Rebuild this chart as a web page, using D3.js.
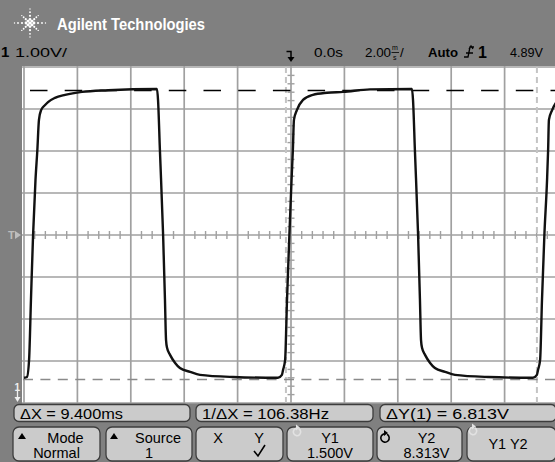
<!DOCTYPE html>
<html><head><meta charset="utf-8">
<script src="https://cdn.jsdelivr.net/npm/d3@7"></script>
<style>
html,body{margin:0;padding:0;background:#808080;}
svg{display:block;font-family:"Liberation Sans",Arial,sans-serif;}
</style></head>
<body>
<svg id="c" width="555" height="462"></svg>
<script>
// ---- data (time in ms, voltage in V) ----
const traceT = [-10.0,-9.89,-9.81,-9.74,-9.66,-9.57,-9.50,-9.44,-9.36,-9.21,-9.10,-8.84,-8.46,-7.83,-6.85,-5.02,
  -4.98,-4.91,-4.79,-4.72,-4.68,-4.64,-4.53,-4.34,-4.16,-3.78,-3.41,-2.17,-0.49,
  -0.34,-0.30,-0.22,-0.15,-0.06,0.02,0.07,0.11,0.22,0.45,0.82,1.35,1.95,2.96,4.53,
  4.57,4.64,4.76,4.83,4.87,4.91,5.02,5.21,5.39,5.77,6.14,7.38,9.06,
  9.21,9.25,9.33,9.40,9.49,9.59,9.63,9.66,9.78,10.0];
const traceV = [1.54,1.56,1.96,3.37,4.91,6.20,6.91,7.62,7.85,7.97,8.04,8.14,8.21,8.28,8.32,8.35,
  8.09,6.91,4.91,3.37,2.43,2.24,2.08,1.89,1.77,1.68,1.61,1.56,1.54,
  1.61,1.72,1.96,3.37,4.91,6.20,6.91,7.62,7.85,8.09,8.21,8.26,8.28,8.34,8.35,
  8.09,6.91,4.91,3.37,2.43,2.24,2.08,1.89,1.77,1.68,1.61,1.56,1.54,
  1.61,1.72,1.96,3.37,4.91,6.20,6.91,7.62,7.85,8.09];
const yCursors = [1.500, 8.313];
const xCursors = [-0.19, 9.21];
const gridXDivs = [-5,-4,-3,-2,-1,0,1,2,3,4,5];
const gridYDivs = [-4,-3,-2,-1,0,1,2,3,4];
const statusLabels = ["ΔX = 9.400ms", "1/ΔX = 106.38Hz", "ΔY(1) = 6.813V"];
const softTop = ["Mode", "Source", "", "Y1", "Y2", ""];
const softBottom = ["Normal", "1", "", "1.500V", "8.313V", ""];

const svg = d3.select("#c");
const W = 555, H = 462;
const x = d3.scaleLinear().domain([-10, 10]).range([24, 558]);
const gx = d3.scaleLinear().domain([-5, 5]).range([24, 558]);
const gy = d3.scaleLinear().domain([-4, 4]).range([403, 67]);
const y = d3.scaleLinear().domain([1.5, 8.313]).range([379.5, 90.5]);

svg.append("rect").attr("width", W).attr("height", H).attr("fill", "#808080");

// Header logo (starburst)
const logo = svg.append("g").attr("transform", "translate(30,23)").attr("fill", "#fff");
d3.range(8).forEach(k => {
  const a = k * Math.PI / 4;
  [4, 8, 12, 15.5].forEach((r, j) => {
    const rr = (k % 2 === 0) ? r : r * 0.75;
    logo.append("circle").attr("cx", rr * Math.cos(a)).attr("cy", rr * Math.sin(a) * 0.9)
      .attr("r", [1.4, 1.1, 0.9, 0.7][j]);
  });
});
logo.append("circle").attr("r", 1.8);
svg.append("text").attr("x", 57).attr("y", 30).attr("fill", "#fff").attr("font-weight", "bold")
  .attr("font-size", 16.5).attr("textLength", 148).attr("lengthAdjust", "spacingAndGlyphs").text("Agilent Technologies");

// Row 2 labels
function lbl(xx, yy, s, fs, tl, bold) {
  const t = svg.append("text").attr("x", xx).attr("y", yy).attr("font-size", fs).text(s);
  if (tl) t.attr("textLength", tl).attr("lengthAdjust", "spacingAndGlyphs");
  if (bold) t.attr("font-weight", "bold");
  return t;
}
lbl(1, 57, "1", 15, 0, true);
lbl(15, 57, "1.00V/", 13.5, 52);
lbl(314, 57, "0.0s", 13.5, 29);
lbl(365, 57, "2.00", 13.5, 26);
lbl(392, 49.5, "m", 7, 0);
lbl(393, 60, "s", 7, 0);
svg.append("line").attr("x1", 391.5).attr("x2", 399).attr("y1", 52.5).attr("y2", 52.5).attr("stroke", "#000").attr("stroke-width", 0.8);
lbl(400, 57, "/", 13.5, 0);
lbl(428, 57, "Auto", 13.5, 30, true);
// trigger slope symbol
svg.append("path").attr("d", "M464,57 L468,57 L470,47 L474,47 M466,53 L473,53 M469,49 l2,-3 l2,3")
  .attr("fill", "none").attr("stroke", "#000").attr("stroke-width", 1.3);
lbl(478, 58, "1", 16, 0, true);
lbl(510, 57, "4.89V", 13.5, 33);
// trigger position arrow
svg.append("path").attr("d", "M286.5,51.5 L291,51.5 L291,59").attr("fill", "none").attr("stroke", "#000").attr("stroke-width", 1.5);
svg.append("path").attr("d", "M287.5,57 L291,62 L294.5,57 Z").attr("fill", "#000");

// Plot area
svg.append("rect").attr("x", 22).attr("y", 66).attr("width", W - 22).attr("height", 403 - 66).attr("fill", "#fff");
const plot = svg.append("g");
plot.selectAll(".gvx").data(gridXDivs).join("line")
  .attr("x1", d => gx(d)).attr("x2", d => gx(d)).attr("y1", 66).attr("y2", 403)
  .attr("stroke", "#a0a0a0").attr("stroke-width", 1.7);
plot.selectAll(".gvy").data(gridYDivs).join("line")
  .attr("x1", 22).attr("x2", W).attr("y1", d => gy(d)).attr("y2", d => gy(d))
  .attr("stroke", "#a0a0a0").attr("stroke-width", 1.7);
// minor ticks on center axes
const minorX = d3.range(-25, 26).filter(i => i % 5 !== 0).map(i => i / 5);
plot.selectAll(".mtx").data(minorX).join("line")
  .attr("x1", d => gx(d)).attr("x2", d => gx(d)).attr("y1", gy(0) - 4).attr("y2", gy(0) + 4)
  .attr("stroke", "#a0a0a0").attr("stroke-width", 1.4);
const minorY = d3.range(-20, 21).filter(i => i % 5 !== 0).map(i => i / 5);
plot.selectAll(".mty").data(minorY).join("line")
  .attr("x1", gx(0) - 3.5).attr("x2", gx(0) + 3.5).attr("y1", d => gy(d)).attr("y2", d => gy(d))
  .attr("stroke", "#a0a0a0").attr("stroke-width", 1.4);

// X cursors (light dashed)
plot.selectAll(".xc").data(xCursors).join("line")
  .attr("x1", d => x(d)).attr("x2", d => x(d)).attr("y1", 67).attr("y2", 403)
  .attr("stroke", "#c4c4c4").attr("stroke-width", 2).attr("stroke-dasharray", "6,4");
// Y cursors
plot.append("line").attr("x1", 22).attr("x2", W).attr("y1", y(yCursors[0])).attr("y2", y(yCursors[0]))
  .attr("stroke", "#8a8a8a").attr("stroke-width", 1.5).attr("stroke-dasharray", "10,7.4").attr("stroke-dashoffset", -1);
plot.append("line").attr("x1", 22).attr("x2", W).attr("y1", y(yCursors[1])).attr("y2", y(yCursors[1]))
  .attr("stroke", "#000").attr("stroke-width", 1.6).attr("stroke-dasharray", "17.5,17.2").attr("stroke-dashoffset", -8);

// trace
const pts = traceT.map((t, i) => [t, traceV[i]]);
const line = d3.line().x(d => x(d[0])).y(d => y(d[1])).curve(d3.curveMonotoneX);
plot.append("path").datum(pts).attr("d", line).attr("fill", "none")
  .attr("stroke", "#111").attr("stroke-width", 2.4).attr("stroke-linejoin", "round");

// left markers: trigger level & ground
svg.append("text").attr("x", 8).attr("y", 239).attr("font-size", 11).attr("fill", "#bdbdbd").attr("font-weight", "bold").text("T");
svg.append("path").attr("d", "M15,231 L21,235 L15,239 Z").attr("fill", "#bdbdbd");
svg.append("text").attr("x", 14.5).attr("y", 391).attr("font-size", 10).attr("fill", "#f0f0f0").attr("font-weight", "bold").text("1");
svg.append("path").attr("d", "M17.5,391 L17.5,399").attr("stroke", "#f0f0f0").attr("stroke-width", 1.3);
svg.append("path").attr("d", "M14.5,397 L17.5,402 L20.5,397 Z").attr("fill", "#f0f0f0");

// status boxes
const statusX = [[14, 190], [196, 373], [380, 556]];
const statusTL = [103, 127, 123];
statusX.forEach((b, i) => {
  svg.append("rect").attr("x", b[0]).attr("y", 404.5).attr("width", b[1] - b[0]).attr("height", 17)
    .attr("rx", 5).attr("fill", "#cbcbcb").attr("stroke", "#3c3c3c").attr("stroke-width", 1.3);
  svg.append("text").attr("x", b[0] + 6).attr("y", 419).attr("font-size", 15.5)
    .attr("textLength", statusTL[i]).attr("lengthAdjust", "spacingAndGlyphs").text(statusLabels[i]);
});

// softkeys
const softX = [[13, 100], [106, 192], [196, 283], [287, 373], [377, 462], [467, 556]];
softX.forEach((b, i) => {
  svg.append("rect").attr("x", b[0]).attr("y", 427).attr("width", b[1] - b[0]).attr("height", 34)
    .attr("rx", 6).attr("fill", "#cbcbcb").attr("stroke", "#3c3c3c").attr("stroke-width", 1.3);
  const cx = (b[0] + b[1]) / 2;
  if (softTop[i]) svg.append("text").attr("x", cx + (i < 2 ? 9 : (i === 4 ? 7 : 0))).attr("y", 442.5).attr("text-anchor", "middle").attr("font-size", 14.5).text(softTop[i]);
  if (softBottom[i]) svg.append("text").attr("x", cx + (i === 4 ? 7 : 0)).attr("y", 457.5).attr("text-anchor", "middle").attr("font-size", 14.5).text(softBottom[i]);
});
// triangles on Mode / Source
[[18], [110]].forEach(p => svg.append("path").attr("d", `M${p[0]},439 L${p[0] + 4},433 L${p[0] + 8},439 Z`).attr("fill", "#000"));
// X Y softkey
svg.append("text").attr("x", 218).attr("y", 442.5).attr("text-anchor", "middle").attr("font-size", 14.5).text("X");
svg.append("text").attr("x", 259).attr("y", 442.5).attr("text-anchor", "middle").attr("font-size", 14.5).text("Y");
svg.append("path").attr("d", "M254,451 L258,456 L265,445").attr("fill", "none").attr("stroke", "#000").attr("stroke-width", 1.6);
// Y1 Y2 softkey text
svg.append("text").attr("x", 508).attr("y", 449).attr("text-anchor", "middle").attr("font-size", 14.5).text("Y1 Y2");
// rotary icons
function rot(cx, cy, col, r) {
  svg.append("path").attr("d", d3.arc()({innerRadius: r - 1.6, outerRadius: r, startAngle: 0.5, endAngle: 2 * Math.PI - 0.2}))
    .attr("transform", `translate(${cx},${cy})`).attr("fill", col);
  svg.append("path").attr("d", `M${cx - 1},${cy - r - 3} L${cx + 3},${cy - r} L${cx - 1},${cy - r + 3} Z`).attr("fill", col);
}
rot(297, 432, "#e2e2e2", 4.5);
rot(385, 438, "#000", 5);
rot(473, 431, "#e2e2e2", 4.5);
</script>
</body></html>
